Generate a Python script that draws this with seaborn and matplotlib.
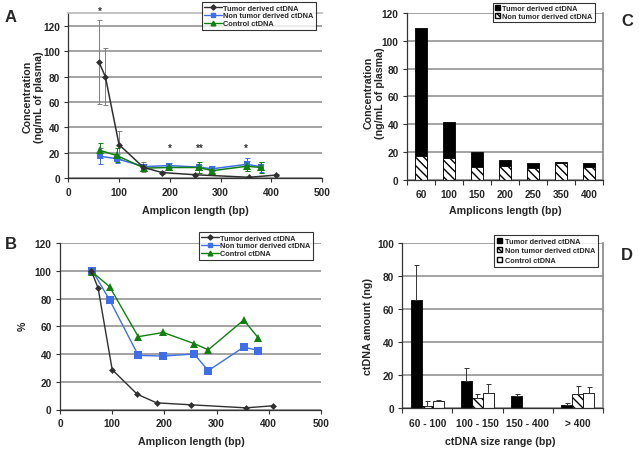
import matplotlib
matplotlib.use("Agg")
import matplotlib.pyplot as plt
import seaborn as sns
import pandas as pd
import numpy as np
from matplotlib.lines import Line2D
from matplotlib.patches import Patch

sns.set_theme(style="white")
plt.rcParams["font.family"] = ["Liberation Sans", "DejaVu Sans"]
plt.rcParams["font.weight"] = "bold"
plt.rcParams["hatch.linewidth"] = 1.0

# ---------------- data ----------------
series_names = ["Tumor derived ctDNA", "Non tumor derived ctDNA", "Control ctDNA"]

# Panel A / B
tumor_x = [60, 73, 100, 148, 185, 250, 356, 409]
tumor_conc = [91.7, 80, 26.5, 8.6, 4.5, 2.8, 0.8, 2.5]
tumor_err = [33, 22.5, 11, 4, 1, 1, 0.5, 1]
nontumor_x = [62, 95, 150, 198, 257, 284, 352, 380]
nontumor_conc = [17.4, 15.4, 9.2, 10, 8.8, 7.5, 11, 9]
nontumor_err = [6.5, 3.5, 2, 2, 2, 2, 5, 4]
control_x = [62, 95, 150, 198, 257, 284, 352, 380]
control_conc = [22, 18, 8, 8.5, 8.5, 6, 9.5, 8.5]
control_err = [6, 5.5, 2, 2, 4, 2, 4, 4]
star_x = [62, 200, 260, 350]
star_y = [132, 24, 24, 24]
star_txt = ["*", "*", "**", "*"]

tumor_pct = [100, 87.5, 28.7, 11, 4.8, 3.4, 1.2, 2.7]
nontumor_pct = [100, 79, 39, 38.5, 40, 28, 45, 42.5]
control_pct = [99, 88.5, 52.5, 55.5, 47.5, 43, 64.5, 51.5]

# Panel C
c_cats = ["60", "100", "150", "200", "250", "350", "400"]
c_total = [109.2, 41.8, 19.7, 14.4, 11.8, 12.5, 11.8]
c_nontumor = [17.3, 15.4, 9.4, 10, 8.2, 12.3, 8.9]

# Panel D
d_cats = ["60 - 100", "100 - 150", "150 - 400", "> 400"]
d_tumor = [65.5, 16.7, 7.6, 2.1]
d_tumor_err = [21.5, 7.8, 0.9, 1.4]
d_nontumor = [1.6, 6.2, 0, 8.7]
d_nontumor_err = [2.8, 2.5, 0, 4.7]
d_control = [4.5, 9.1, 0, 9.3]
d_control_err = [0.6, 5.9, 0, 3.5]

# ---------------- styling ----------------
C_T, C_N, C_C = "#303030", "#3f6fe8", "#108010"
GRID = "#8a8a8a"
TICK_FS = 7.3
LAB_FS = 7.7
LEG_FS = 5.3

W, H = 639, 452
fig = plt.figure(figsize=(6.39, 4.52), dpi=100)
fig.patch.set_facecolor("white")


def ax_at(l, t, r, b):
    return fig.add_axes([l / W, 1 - b / H, (r - l) / W, (b - t) / H])


def ftext(x, y, s, **kw):
    fig.text(x / W, 1 - y / H, s, **kw)


def style(ax, right=False, top=False):
    ax.set_facecolor("white")
    ax.yaxis.grid(True, color=GRID, linewidth=1.1)
    ax.set_axisbelow(True)
    for side in ["left", "bottom"]:
        ax.spines[side].set_color("#333333")
        ax.spines[side].set_linewidth(0.9)
    ax.spines["right"].set_visible(right)
    ax.spines["top"].set_visible(top)
    ax.spines["right"].set_color(GRID)
    ax.spines["top"].set_color("#bbbbbb")
    ax.tick_params(axis="both", which="both", direction="out", length=3,
                   width=0.8, color="#333333", labelsize=TICK_FS, pad=3,
                   left=True, bottom=True)
    for lab in ax.get_xticklabels() + ax.get_yticklabels():
        lab.set_fontweight("bold")
    ax.set_xlabel("")
    ax.set_ylabel("")


def line_legend(ax, anchor):
    handles = [
        Line2D([], [], color=C_T, marker="D", markersize=2.6, linewidth=1),
        Line2D([], [], color=C_N, marker="s", markersize=3.2, linewidth=1),
        Line2D([], [], color=C_C, marker="^", markersize=3.4, linewidth=1),
    ]
    leg = ax.legend(handles, series_names, loc="upper right",
                    bbox_to_anchor=(anchor[0] / W, 1 - anchor[1] / H),
                    bbox_transform=fig.transFigure, frameon=True, fancybox=False,
                    edgecolor="black", fontsize=LEG_FS, handlelength=2.4,
                    handletextpad=0.15, labelspacing=0.08, borderpad=0.35,
                    borderaxespad=0)
    leg.get_frame().set_linewidth(0.8)
    for t in leg.get_texts():
        t.set_fontweight("bold")


# ---------------- Panel A ----------------
axA = ax_at(68.3, 14, 322, 179.3)
for xs, ys, es, col, ecol in [(nontumor_x, nontumor_conc, nontumor_err, C_N, C_N),
                              (control_x, control_conc, control_err, C_C, C_C),
                              (tumor_x, tumor_conc, tumor_err, C_T, "#808080")]:
    axA.errorbar(xs, ys, yerr=es, fmt="none", ecolor=ecol, elinewidth=0.7,
                 capsize=1.8, capthick=0.7, zorder=2)
sns.lineplot(x=nontumor_x, y=nontumor_conc, color=C_N, marker="s", markersize=5,
             markeredgewidth=0, linewidth=1.1, ax=axA, zorder=3)
sns.lineplot(x=control_x, y=control_conc, color=C_C, marker="^", markersize=5.5,
             markeredgewidth=0, linewidth=1.1, ax=axA, zorder=4)
sns.lineplot(x=tumor_x, y=tumor_conc, color=C_T, marker="D", markersize=3.5,
             markeredgewidth=0, linewidth=1.1, ax=axA, zorder=5)
axA.set_xlim(0, 500)
axA.set_ylim(0, 130)
axA.set_xticks(range(0, 501, 100))
axA.set_yticks(range(0, 121, 20))
style(axA, top=True)
for sx, sy, st in zip(star_x, star_y, star_txt):
    axA.text(sx, sy, st, ha="center", va="center", fontsize=7, color="#333333",
             clip_on=False)
line_legend(axA, (316, 3))
ftext(33, 97, "Concentration\n(ng/mL of plasma)", rotation=90, ha="center",
      va="center", fontsize=LAB_FS, fontweight="bold", linespacing=1.15)
ftext(195, 211, "Amplicon length (bp)", ha="center", va="center",
      fontsize=LAB_FS, fontweight="bold")
ftext(11, 18, "A", ha="center", va="center", fontsize=12, fontweight="bold")

# ---------------- Panel B ----------------
axB = ax_at(60, 244, 321, 410.5)
sns.lineplot(x=tumor_x, y=tumor_pct, color=C_T, marker="D", markersize=3.5,
             markeredgewidth=0, linewidth=1.0, ax=axB, zorder=5)
sns.lineplot(x=nontumor_x, y=nontumor_pct, color=C_N, marker="s", markersize=5.5,
             markeredgewidth=0, linewidth=1.0, ax=axB, zorder=3)
sns.lineplot(x=control_x, y=control_pct, color=C_C, marker="^", markersize=5.5,
             markeredgewidth=0, linewidth=1.0, ax=axB, zorder=4)
axB.set_xlim(0, 500)
axB.set_ylim(0, 120)
axB.set_xticks(range(0, 501, 100))
axB.set_yticks(range(0, 121, 20))
style(axB)
line_legend(axB, (313, 233))
ftext(23, 326, "%", rotation=90, ha="center", va="center", fontsize=LAB_FS,
      fontweight="bold")
ftext(191, 442, "Amplicon length (bp)", ha="center", va="center",
      fontsize=LAB_FS, fontweight="bold")
ftext(11, 245, "B", ha="center", va="center", fontsize=12, fontweight="bold")

# ---------------- Panel C ----------------
axC = ax_at(407, 14, 603, 180.7)
sns.barplot(x=c_cats, y=c_total, order=c_cats, color="black", edgecolor="black",
            linewidth=0.6, width=0.43, saturation=1, ax=axC)
sns.barplot(x=c_cats, y=c_nontumor, order=c_cats, color="white",
            edgecolor="black", linewidth=0.6, width=0.43, saturation=1,
            hatch="\\\\\\\\", ax=axC)
axC.set_xlim(-0.5, len(c_cats) - 0.5)
axC.set_ylim(0, 120)
axC.set_yticks(range(0, 121, 20))
style(axC, right=True)
axC.set_xticks(np.arange(-0.5, len(c_cats), 1.0), minor=True)
axC.tick_params(axis="x", which="major", length=0, pad=7)
axC.tick_params(axis="x", which="minor", length=3.5)
legC = axC.legend([Patch(facecolor="black", edgecolor="black"),
                   Patch(facecolor="white", edgecolor="black", hatch="\\\\\\\\")],
                  series_names[:2], loc="upper right",
                  bbox_to_anchor=(595 / W, 1 - 3.5 / H), bbox_transform=fig.transFigure,
                  frameon=True, fancybox=False, edgecolor="black", fontsize=LEG_FS,
                  handlelength=0.7, handleheight=0.7, handletextpad=0.3,
                  labelspacing=0.15, borderpad=0.3, borderaxespad=0)
legC.get_frame().set_linewidth(0.8)
ftext(374, 93, "Concentration\n(ng/mL of plasma)", rotation=90, ha="center",
      va="center", fontsize=LAB_FS, fontweight="bold", linespacing=1.15)
ftext(505, 211, "Amplicons length (bp)", ha="center", va="center",
      fontsize=LAB_FS, fontweight="bold")
ftext(627, 22, "C", ha="center", va="center", fontsize=12, fontweight="bold")

# ---------------- Panel D ----------------
axD = ax_at(402.3, 244.3, 602.7, 409.3)
dfD = pd.DataFrame({
    "range": d_cats * 3,
    "amount": d_tumor + d_nontumor + d_control,
    "series": [series_names[0]] * 4 + [series_names[1]] * 4 + [series_names[2]] * 4,
})
sns.barplot(data=dfD, x="range", y="amount", hue="series", order=d_cats,
            hue_order=series_names, palette=["black", "white", "white"],
            edgecolor="black", linewidth=0.6, width=0.66, gap=0, saturation=1,
            errorbar=None, legend=False, ax=axD)
errs = [d_tumor_err, d_nontumor_err, d_control_err]
bar_conts = list(axD.containers)[:3]
for ci, cont in enumerate(bar_conts):
    for bar, e in zip(cont, errs[ci]):
        if ci == 1:
            bar.set_hatch("\\\\\\\\")
        if e > 0:
            xc = bar.get_x() + bar.get_width() / 2
            axD.errorbar([xc], [bar.get_height()], yerr=[[0], [e]], fmt="none",
                         ecolor="#333333", elinewidth=0.7, capsize=1.8,
                         capthick=0.7, zorder=1)
axD.set_xlim(-0.5, len(d_cats) - 0.5)
axD.set_ylim(0, 100)
axD.set_yticks(range(0, 101, 20))
style(axD, right=True)
axD.set_xticks(np.arange(-0.5, len(d_cats), 1.0), minor=True)
axD.tick_params(axis="x", which="major", length=0, pad=7)
axD.tick_params(axis="x", which="minor", length=3.5)
legD = axD.legend([Patch(facecolor="black", edgecolor="black"),
                   Patch(facecolor="white", edgecolor="black", hatch="\\\\\\\\"),
                   Patch(facecolor="white", edgecolor="black")],
                  series_names, loc="upper right",
                  bbox_to_anchor=(598 / W, 1 - 236 / H), bbox_transform=fig.transFigure,
                  frameon=True, fancybox=False, edgecolor="black", fontsize=LEG_FS,
                  handlelength=0.7, handleheight=0.7, handletextpad=0.3,
                  labelspacing=0.3, borderpad=0.4, borderaxespad=0)
legD.get_frame().set_linewidth(0.8)
ftext(368, 327, "ctDNA amount (ng)", rotation=90, ha="center", va="center",
      fontsize=LAB_FS, fontweight="bold")
ftext(500, 442, "ctDNA size range (bp)", ha="center", va="center",
      fontsize=LAB_FS, fontweight="bold")
ftext(627, 255, "D", ha="center", va="center", fontsize=12, fontweight="bold")

fig.savefig("out.png", dpi=100, facecolor="white")
